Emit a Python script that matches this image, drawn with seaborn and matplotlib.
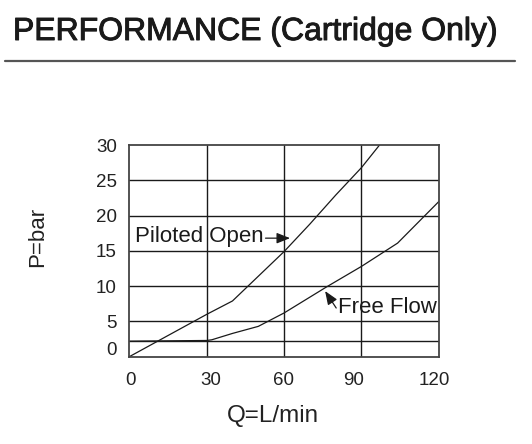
import pandas as pd
import numpy as np
import matplotlib
matplotlib.use('Agg')
import matplotlib.pyplot as plt
import matplotlib.transforms as mtransforms
import matplotlib.patheffects as pe
import seaborn as sns

# Curves (Q in L/min, P in bar)
piloted_q = [0, 10, 20, 30, 40, 50, 60, 70, 80, 90, 97]
piloted_p = [0, 2.0, 4.0, 6.0, 7.9, 11.4, 14.9, 18.8, 22.9, 26.8, 30]
free_q = [0, 30, 32, 40, 50, 60, 76.5, 90, 104, 120]
free_p = [2.2, 2.3, 2.4, 3.3, 4.3, 6.2, 9.9, 12.8, 16.1, 22.0]

x_ticks = [0, 30, 60, 90, 120]
y_ticks = [0, 5, 10, 15, 20, 25, 30]
base_grid = 2.2

df = pd.concat([
    pd.DataFrame({'Q': piloted_q, 'P': piloted_p, 'curve': 'Piloted Open'}),
    pd.DataFrame({'Q': free_q, 'P': free_p, 'curve': 'Free Flow'}),
])

sns.set_style('white')
plt.rcParams['font.family'] = ['Liberation Sans', 'DejaVu Sans']

fig = plt.figure(figsize=(5.32, 4.44), dpi=100)
ax = fig.add_axes([0.243, 0.1966, 0.582, 0.4768])

sns.lineplot(data=df, x='Q', y='P', units='curve', estimator=None, sort=False,
             color='#1a1a1a', linewidth=0.9, ax=ax)

ax.set_xlim(0, 120)
ax.set_ylim(0, 30)
ax.set_xticks(x_ticks)
ax.set_yticks(y_ticks)
ax.tick_params(length=0, labelsize=13.5, colors='#222222')
ax.tick_params(axis='y', pad=9)
ax.tick_params(axis='x', pad=11)

def nudge(label, dx_px, dy_px):
    label.set_transform(label.get_transform() +
                        mtransforms.ScaledTranslation(dx_px / 100, dy_px / 100, fig.dpi_scale_trans))

# tick labels in the original are not exactly on the grid
nudge(ax.get_yticklabels()[0], 0, 8)
for lbl, dx in zip(ax.get_xticklabels(), [1, 4, -1, -8, -5]):
    nudge(lbl, dx, 0)

for v in x_ticks[1:-1]:
    ax.axvline(v, color='#1a1a1a', linewidth=1.0, zorder=0)
for v in y_ticks[1:-1] + [base_grid]:
    ax.axhline(v, color='#1a1a1a', linewidth=1.0, zorder=0)

for s in ax.spines.values():
    s.set_color('#444444')
    s.set_linewidth(1.3)

ax.set_xlabel('Q=L/min', fontsize=17.5, color='#222222')
ax.xaxis.set_label_coords(0.464, -0.228)
ax.set_ylabel('P=bar', fontsize=16, color='#222222')
ax.yaxis.set_label_coords(-0.262, 0.565)

arrow = dict(arrowstyle='-|>,head_length=0.45,head_width=0.18', color='#1a1a1a',
             lw=0.9, mutation_scale=18, shrinkA=0, shrinkB=0)
ax.text(2.2, 17.1, 'Piloted Open', fontsize=16, va='center', ha='left', color='#1a1a1a')
ax.annotate('', xy=(62.3, 16.8), xytext=(52.8, 16.8), arrowprops=arrow)
ax.text(81.0, 7.0, 'Free Flow', fontsize=16, va='center', ha='left', color='#1a1a1a')
ax.annotate('', xy=(75.9, 9.3), xytext=(80.2, 6.9), arrowprops=arrow)

title = fig.text(13 / 532, 1 - 40 / 444, 'PERFORMANCE (Cartridge Only)', fontsize=23,
                 ha='left', va='baseline', color='#1a1a1a')
title.set_path_effects([pe.withStroke(linewidth=0.7, foreground='#1a1a1a')])
fig.add_artist(plt.Line2D([5 / 532, 515 / 532], [1 - 60.7 / 444] * 2,
                          color='#555555', linewidth=1.6, transform=fig.transFigure))

fig.savefig('out.png', dpi=100)
